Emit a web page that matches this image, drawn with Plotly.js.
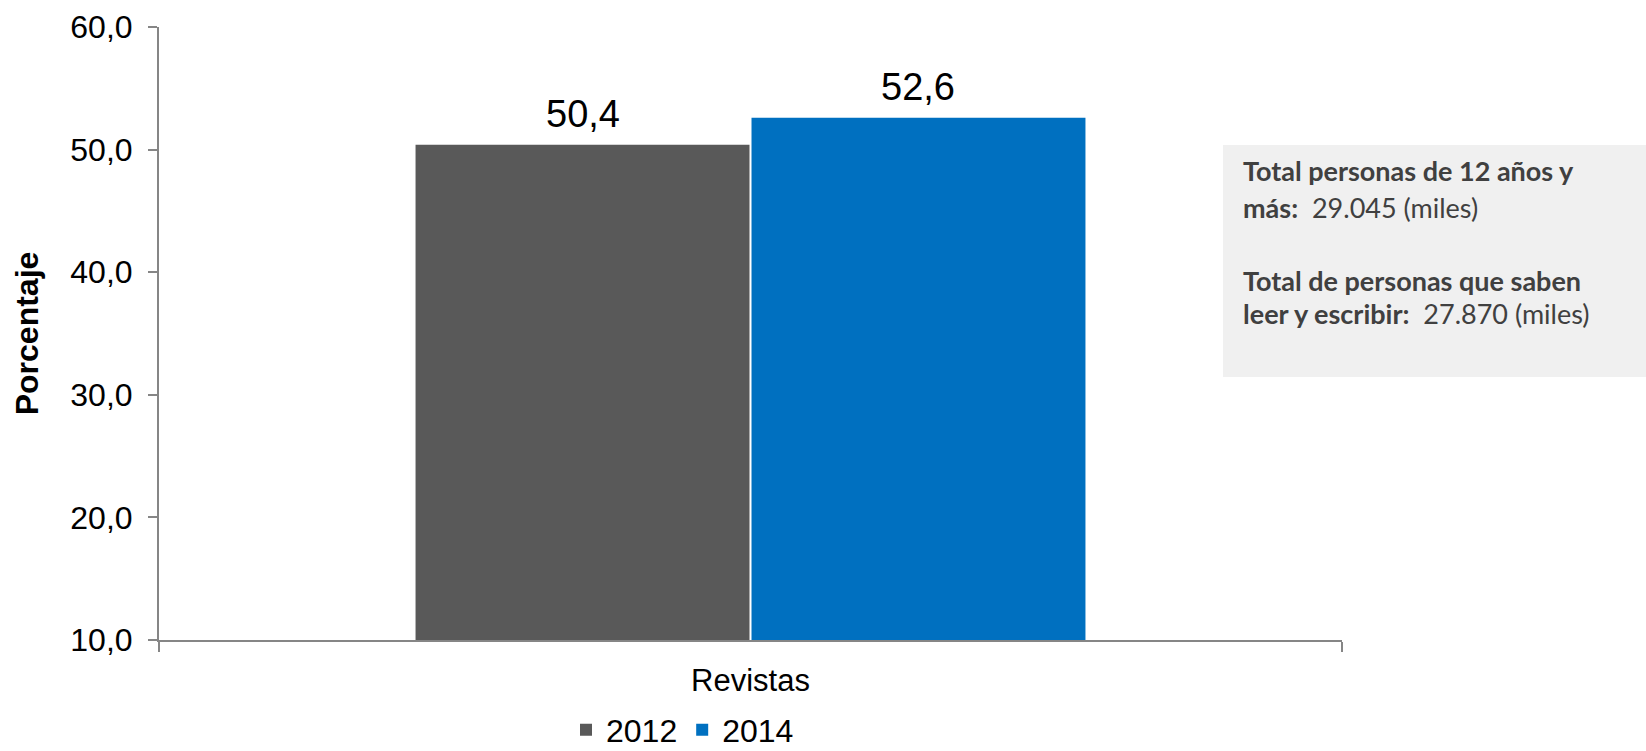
<!DOCTYPE html>
<html>
<head>
<meta charset="utf-8">
<script src="https://cdn.plot.ly/plotly-3.0.1.min.js"></script>
<style>
html,body{margin:0;padding:0;background:#fff;}
#chart{width:1646px;height:751px;}
</style>
</head>
<body>
<div id="chart"></div>
<script>
// ---- data ----
const categories = ["Revistas"];
const seriesNames = ["2012", "2014"];
const values2012 = [50.4];
const values2014 = [52.6];
const seriesColors = ["#595959", "#0070C0"];
const yTickVals = [10, 20, 30, 40, 50, 60];
const yTitle = "Porcentaje";
const noteLines = [
  ["Total personas de 12 años y", ""],
  ["más:", "  29.045 (miles)"],
  ["Total de personas que saben", ""],
  ["leer y escribir:", "  27.870 (miles)"]
];

const FONT = "Liberation Sans, Arial, sans-serif";
const NOTE_FONT = "Lato, Open Sans, sans-serif";

const BARGAP = 0.432;
const seriesValues = [values2012, values2014];

function barTrace(name, vals, color) {
  return {
    type: "bar",
    name: name,
    x: categories,
    y: vals,
    marker: {color: color, line: {width: 0}},
    hoverinfo: "skip"
  };
}

const data = seriesValues.map((v, i) => barTrace(seriesNames[i], v, seriesColors[i]));

// plot area (px)
const L = 159, R = 1342, T = 27, B = 640, W = 1646, H = 751;
const px = v => (v - L) / (R - L);
const py = v => (B - v) / (B - T);

// data labels above each bar (positioned on the library's axes)
const nS = seriesValues.length;
const groupW = 1 - BARGAP;
const labelAnn = [];
seriesValues.forEach((vals, s) => {
  vals.forEach((v, c) => {
    labelAnn.push({
      xref: "x", yref: "y",
      x: c - groupW / 2 + groupW / nS * (s + 0.5),
      y: v,
      xanchor: "center", yanchor: "bottom", yshift: 8,
      showarrow: false,
      text: v.toFixed(1).replace(".", ","),
      font: {family: FONT, size: 38, color: "#000000"}
    });
  });
});

const noteBaselines = [180, 217, 290, 323];
const noteAnn = noteLines.map((ln, i) => ({
  xref: "paper", yref: "paper",
  x: px(1241), y: py(noteBaselines[i] - 9.5),
  xanchor: "left", yanchor: "middle",
  showarrow: false, align: "left",
  text: "<b>" + ln[0] + "</b>" + ln[1],
  font: {family: NOTE_FONT, size: 27, color: "#404040"}
}));

const layout = {
  width: W, height: H,
  margin: {l: L, r: W - R, t: T, b: H - B, pad: 0, autoexpand: false},
  paper_bgcolor: "#ffffff",
  plot_bgcolor: "#ffffff",
  separators: ",.",
  font: {family: FONT, color: "#000000", size: 32},
  barmode: "group",
  bargap: BARGAP,
  bargroupgap: 0.006,
  showlegend: true,
  legend: {
    orientation: "h",
    x: px(566), xanchor: "left",
    y: py(730), yanchor: "middle",
    font: {family: FONT, size: 32, color: "#000000"},
    bgcolor: "rgba(0,0,0,0)",
    itemclick: false, itemdoubleclick: false,
    tracegroupgap: 0
  },
  xaxis: {
    type: "category",
    showline: true, linecolor: "#868686", linewidth: 2,
    ticks: "outside", tickson: "boundaries", ticklen: 10, tickcolor: "#868686", tickwidth: 2,
    tickfont: {family: FONT, size: 31, color: "#000000"},
    showgrid: false, zeroline: false,
    ticklabelstandoff: 12,
    automargin: false, fixedrange: true
  },
  yaxis: {
    range: [10, 60],
    tickvals: yTickVals,
    tickformat: ".1f",
    showline: true, linecolor: "#868686", linewidth: 2,
    ticks: "outside", ticklen: 9, tickcolor: "#868686", tickwidth: 2,
    tickfont: {family: FONT, size: 32, color: "#000000"},
    ticklabelstandoff: 9,
    showgrid: false, zeroline: false,
    title: {text: "<b>" + yTitle + "</b>", font: {family: FONT, size: 32, color: "#000000"}, standoff: 22},
    automargin: false, fixedrange: true
  },
  shapes: [{
    type: "rect", xref: "paper", yref: "paper",
    x0: px(1223), x1: px(1646), y0: py(377), y1: py(145),
    fillcolor: "#F0F0F0", line: {width: 0}, layer: "below"
  }],
  annotations: labelAnn.concat(noteAnn)
};

Plotly.newPlot("chart", data, layout, {displayModeBar: false, staticPlot: true});
</script>
</body>
</html>
